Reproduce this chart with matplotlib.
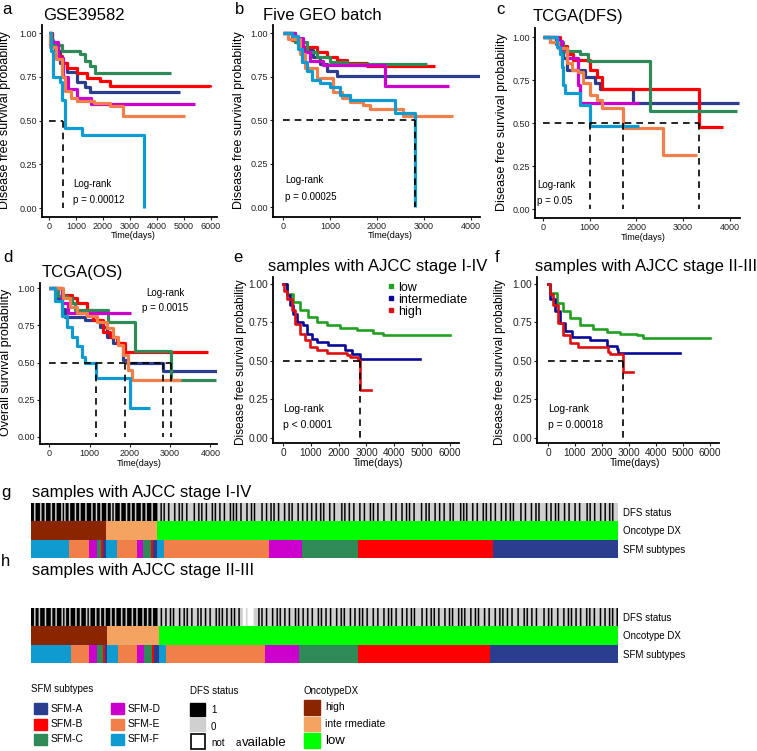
import numpy as np
import matplotlib
matplotlib.use('Agg')
import matplotlib.pyplot as plt
from matplotlib import font_manager
from matplotlib.colors import ListedColormap
from matplotlib.patches import Rectangle
from matplotlib.lines import Line2D

W, H = 757, 751

# ---------------- data ----------------
# subtype colours
sfm_names = ['SFM-A', 'SFM-B', 'SFM-C', 'SFM-D', 'SFM-E', 'SFM-F']
sfm_cols = ['#2A3D8F', '#FF0000', '#2E8B57', '#CC00CC', '#F07F4A', '#0F9AD0']
onco_names = ['high', 'intermediate', 'low']
onco_cols = ['#8B2500', '#F4A460', '#00FF00']
risk_cols = {'low': '#22A022', 'intermediate': '#0A0A99', 'high': '#DD1111'}

# a  GSE39582
a_A_t = [0, 100, 220, 410, 660, 1030, 1330, 1520, 4850]
a_A_s = [1.0, 0.95, 0.90, 0.83, 0.78, 0.72, 0.69, 0.665, 0.665]
a_B_t = [0, 100, 340, 480, 660, 1030, 1400, 1890, 2260, 5950]
a_B_s = [1.0, 0.93, 0.87, 0.83, 0.80, 0.77, 0.745, 0.725, 0.70, 0.69]
a_C_t = [0, 60, 150, 480, 1150, 1330, 1520, 1700, 4500]
a_C_s = [1.0, 0.96, 0.93, 0.90, 0.88, 0.84, 0.81, 0.77, 0.77]
a_D_t = [0, 80, 340, 520, 700, 1030, 1560, 5400]
a_D_s = [1.0, 0.95, 0.86, 0.75, 0.68, 0.63, 0.595, 0.595]
a_E_t = [0, 50, 250, 480, 600, 800, 1030, 1650, 2260, 2750, 5050]
a_E_s = [1.0, 0.92, 0.85, 0.75, 0.67, 0.63, 0.61, 0.60, 0.585, 0.525, 0.525]
a_F_t = [0, 60, 150, 410, 480, 590, 1220, 3520]
a_F_s = [1.0, 0.90, 0.75, 0.72, 0.62, 0.455, 0.415, 0.0]
a_median = [520]
a_p = 'p = 0.00012'

# b  Five GEO batch
b_A_t = [0, 250, 433, 645, 787, 929, 1142, 4200]
b_A_s = [1.0, 0.95, 0.90, 0.86, 0.82, 0.78, 0.755, 0.755]
b_B_t = [0, 185, 362, 716, 929, 1142, 1355, 1780, 3230]
b_B_s = [1.0, 0.96, 0.92, 0.89, 0.865, 0.845, 0.825, 0.81, 0.81]
b_C_t = [0, 250, 500, 716, 1000, 1355, 3060]
b_C_s = [1.0, 0.95, 0.89, 0.86, 0.835, 0.82, 0.82]
b_D_t = [0, 255, 433, 574, 858, 2170, 3540]
b_D_s = [1.0, 0.97, 0.89, 0.84, 0.815, 0.695, 0.695]
b_E_t = [0, 100, 362, 468, 716, 1071, 1248, 1426, 1709, 1851, 2560, 3620]
b_E_s = [1.0, 0.965, 0.88, 0.80, 0.74, 0.66, 0.625, 0.605, 0.585, 0.565, 0.525, 0.525]
b_F_t = [0, 185, 326, 397, 504, 610, 787, 1000, 1213, 1426, 2383, 2810]
b_F_s = [1.0, 0.98, 0.91, 0.835, 0.78, 0.73, 0.71, 0.69, 0.645, 0.615, 0.54, 0.0]
b_median = [2810]
b_p = 'p = 0.00025'

# c  TCGA(DFS)
c_A_t = [0, 272, 436, 507, 900, 1114, 1221, 1935, 4200]
c_A_s = [1.0, 0.96, 0.88, 0.81, 0.77, 0.735, 0.70, 0.615, 0.615]
c_B_t = [0, 364, 507, 650, 1007, 1150, 1257, 3343, 3860]
c_B_s = [1.0, 0.95, 0.90, 0.87, 0.81, 0.77, 0.70, 0.478, 0.478]
c_C_t = [0, 150, 436, 793, 971, 2293, 4150]
c_C_s = [1.0, 0.97, 0.92, 0.90, 0.86, 0.57, 0.57]
c_D_t = [0, 328, 400, 507, 757, 793, 2060]
c_D_s = [1.0, 0.98, 0.93, 0.88, 0.72, 0.62, 0.62]
c_E_t = [0, 150, 328, 507, 614, 757, 864, 1007, 1150, 1257, 1722, 2578, 3290]
c_E_s = [1.0, 0.975, 0.936, 0.849, 0.81, 0.80, 0.733, 0.665, 0.636, 0.587, 0.471, 0.316, 0.316]
c_F_t = [0, 293, 364, 400, 436, 470, 793, 1007, 2060]
c_F_s = [1.0, 0.945, 0.90, 0.83, 0.72, 0.678, 0.606, 0.484, 0.484]
c_median = [1007, 1722, 3343]
c_p = 'p = 0.05'

# d  TCGA(OS)
d_A_t = [0, 183, 307, 389, 885, 1257, 1422, 1588, 1836, 1918, 2827, 4180]
d_A_s = [1.0, 0.93, 0.86, 0.807, 0.785, 0.74, 0.673, 0.63, 0.517, 0.495, 0.44, 0.44]
d_B_t = [0, 307, 555, 679, 926, 1092, 1340, 1505, 1670, 1877, 3940]
d_B_s = [1.0, 0.953, 0.93, 0.897, 0.852, 0.785, 0.707, 0.673, 0.629, 0.573, 0.573]
d_C_t = [0, 224, 431, 555, 637, 1463, 2124, 3033, 4150]
d_C_s = [1.0, 0.95, 0.93, 0.90, 0.852, 0.774, 0.579, 0.383, 0.383]
d_D_t = [0, 307, 472, 2040]
d_D_s = [1.0, 0.90, 0.83, 0.83]
d_E_t = [0, 348, 514, 679, 926, 1174, 1422, 1588, 1712, 1836, 1960, 2042, 3280]
d_E_s = [1.0, 0.93, 0.87, 0.83, 0.81, 0.774, 0.73, 0.673, 0.618, 0.551, 0.45, 0.383, 0.383]
d_F_t = [0, 141, 307, 431, 555, 679, 802, 885, 1157, 2000, 2500]
d_F_s = [1.0, 0.91, 0.81, 0.74, 0.67, 0.61, 0.54, 0.495, 0.394, 0.193, 0.193]
d_median = [1157, 1877, 2827, 3033]
d_p = 'p = 0.0015'

# e  Oncotype DX risk, AJCC stage I-IV
e_low_t = [0, 132, 371, 612, 911, 1211, 1571, 2050, 2650, 3248, 3608, 6000]
e_low_s = [1.0, 0.935, 0.881, 0.828, 0.784, 0.752, 0.730, 0.713, 0.698, 0.683, 0.666, 0.666]
e_int_t = [0, 132, 252, 371, 491, 731, 851, 1031, 1211, 1631, 2230, 2470, 2770, 4930]
e_int_s = [1.0, 0.924, 0.86, 0.806, 0.752, 0.73, 0.677, 0.644, 0.623, 0.601, 0.573, 0.547, 0.515, 0.515]
e_high_t = [0, 30, 132, 312, 431, 612, 791, 971, 1211, 1571, 2290, 2410, 2710, 2770, 3150]
e_high_s = [1.0, 0.955, 0.90, 0.828, 0.741, 0.677, 0.634, 0.59, 0.569, 0.552, 0.537, 0.526, 0.504, 0.31, 0.31]
e_median = [2770]
e_p = 'p < 0.0001'

# f  Oncotype DX risk, AJCC stage II-III
f_low_t = [0, 74, 321, 568, 815, 1185, 1679, 2173, 2667, 3284, 3531, 6000]
f_low_s = [1.0, 0.94, 0.873, 0.824, 0.775, 0.735, 0.706, 0.69, 0.676, 0.67, 0.648, 0.648]
f_int_t = [0, 74, 259, 444, 630, 877, 1556, 2173, 2543, 2605, 4890]
f_int_s = [1.0, 0.90, 0.824, 0.745, 0.696, 0.657, 0.637, 0.598, 0.578, 0.55, 0.55]
f_high_t = [0, 74, 198, 383, 568, 815, 1123, 2235, 2296, 2765, 3160]
f_high_s = [1.0, 0.93, 0.863, 0.745, 0.667, 0.618, 0.588, 0.559, 0.543, 0.43, 0.43]
f_median = [2765]
f_p = 'p = 0.00018'

# g / h heatmaps: samples per SFM subtype (F..A) inside each Oncotype group (high, intermediate, low)
g_counts = [[38, 20, 8, 4, 2, 3], [11, 20, 6, 8, 2, 4], [7, 105, 33, 56, 135, 125]]
h_counts = [[40, 18, 8, 6, 2, 2], [11, 19, 7, 8, 2, 5], [7, 99, 34, 59, 132, 128]]
# DFS status along the ordered samples: 1 = event, 0 = no event, n = not available
g_dfs = ("1101110110111011011101011011101101110111011011011101"
         "10101110111011011011101101110111"
         "001010010001001010010000100101001000101001001000101"
         "010010001001010000100100101001000100101000100100100"
         "100100101000100100001010010010001001000101001000100"
         "001001000100101001000010010100010010010001010000101"
         "010001001000101001001000100100101000010010001001010"
         "000100100101000100100010010000101001000100100101000")
h_dfs = ("1101101110111011011101011011101101110101110110110111"
         "01101110110111011011101101101110"
         "01001001010001001010010001010010010001010100100101"
         "00100nn0nnnn00010100100010010100100100010100100"
         "100100010100100100010010100010010010100100010010001"
         "001010010001001001010000100100101001000100101000101"
         "010001001010001001000100101001001000100010100100100"
         "001001010001000100101001001000101001000100100101001")

# ---------------- drawing ----------------
names = {f.name for f in font_manager.fontManager.ttflist}
narrow = 'Liberation Sans Narrow' if 'Liberation Sans Narrow' in names else 'Liberation Sans'
plt.rcParams['font.family'] = ['Liberation Sans', 'DejaVu Sans']

fig = plt.figure(figsize=(W / 100, H / 100), dpi=100)


def rect(x0, y0, x1, y1):
    return [x0 / W, 1 - y1 / H, (x1 - x0) / W, (y1 - y0) / H]


def km_axes(box, xlim, ylim, xmax, fs):
    ax = fig.add_axes(rect(*box))
    for sp in ['top', 'right']:
        ax.spines[sp].set_visible(False)
    for sp in ['left', 'bottom']:
        ax.spines[sp].set_linewidth(1.3)
    ax.set_xlim(xlim)
    ax.set_ylim(ylim)
    ax.set_xticks(np.arange(0, xmax + 1, 1000))
    ax.set_yticks([0, 0.25, 0.5, 0.75, 1.0])
    ax.set_yticklabels(['0.00', '0.25', '0.50', '0.75', '1.00'])
    ax.tick_params(labelsize=fs, length=2, width=0.8, pad=1.5, colors='#222222')
    return ax


def median_lines(ax, xs):
    ax.plot([0, max(xs)], [0.5, 0.5], color='k', lw=1.2, dashes=(4, 3), zorder=5)
    for x in xs:
        ax.plot([x, x], [0.5, 0], color='k', lw=1.2, dashes=(4, 3), zorder=5)


sub_panels = [
    ('GSE39582', (42, 25, 217, 217), (-260, 6220), (-0.051, 1.046), 6000,
     [(a_A_t, a_A_s), (a_B_t, a_B_s), (a_C_t, a_C_s), (a_D_t, a_D_s), (a_E_t, a_E_s), (a_F_t, a_F_s)],
     a_median, a_p, (900, 0.14, 'left')),
    ('Five GEO batch', (273, 25, 480, 217), (-213, 4190), (-0.057, 1.046), 4000,
     [(b_A_t, b_A_s), (b_B_t, b_B_s), (b_C_t, b_C_s), (b_D_t, b_D_s), (b_E_t, b_E_s), (b_F_t, b_F_s)],
     b_median, b_p, (42, 0.155, 'left')),
    ('TCGA(DFS)', (535, 28, 740, 218), (-171, 4218), (-0.051, 1.054), 4000,
     [(c_A_t, c_A_s), (c_B_t, c_B_s), (c_C_t, c_C_s), (c_D_t, c_D_s), (c_E_t, c_E_s), (c_F_t, c_F_s)],
     c_median, c_p, (-120, 0.14, 'left')),
    ('TCGA(OS)', (40, 283, 217, 444), (-231, 4164), (-0.047, 1.034), 4000,
     [(d_A_t, d_A_s), (d_B_t, d_B_s), (d_C_t, d_C_s), (d_D_t, d_D_s), (d_E_t, d_E_s), (d_F_t, d_F_s)],
     d_median, d_p, (2870, 0.964, 'center')),
]

for title, box, xlim, ylim, xmax, curves, med, ptxt, (tx, ty, ha) in sub_panels:
    ax = km_axes(box, xlim, ylim, xmax, 6.5)
    for (t, s), col in zip(curves, sfm_cols):
        ax.step(t, s, where='post', color=col, lw=2.3, solid_capstyle='butt')
    median_lines(ax, med)
    ax.text(tx, ty, 'Log-rank', fontsize=7, ha=ha, va='center', family=narrow)
    ax.text(tx, ty - 0.095, ptxt, fontsize=7, ha=ha, va='center', family=narrow)

risk_panels = [
    ((273, 277, 459, 443), (-360, 6330),
     [(e_low_t, e_low_s, 'low'), (e_int_t, e_int_s, 'intermediate'), (e_high_t, e_high_s, 'high')],
     e_median, e_p, True),
    ((537, 277, 719, 443), (-407, 6333),
     [(f_low_t, f_low_s, 'low'), (f_int_t, f_int_s, 'intermediate'), (f_high_t, f_high_s, 'high')],
     f_median, f_p, False),
]
for box, xlim, curves, med, ptxt, show_leg in risk_panels:
    ax = km_axes(box, xlim, (-0.032, 1.043), 6000, 7.3)
    for t, s, lab in curves:
        ax.step(t, s, where='post', color=risk_cols[lab], lw=1.9)
    median_lines(ax, med)
    ax.text(0, 0.19, 'Log-rank', fontsize=7.5, ha='left', va='center')
    ax.text(0, 0.085, ptxt, fontsize=7.5, ha='left', va='center')
    if show_leg:
        handles = [Line2D([], [], marker='s', ls='', color=risk_cols[k], markersize=3.5)
                   for k in ['low', 'intermediate', 'high']]
        ax.legend(handles, ['low', 'intermediate', 'high'], loc='upper left',
                  bbox_to_anchor=(0.56, 1.024), frameon=False, fontsize=9,
                  handletextpad=0.2, labelspacing=0.0, handlelength=0.8, borderpad=0.2)

# heatmaps
dfs_cmap = ListedColormap(['black', '#d0d0d0', 'white'])
code = {'1': 0, '0': 1, 'n': 2}
for box, counts, dfs in [((31, 503, 618, 558), g_counts, g_dfs), ((31, 608, 618, 663), h_counts, h_dfs)]:
    ax = fig.add_axes(rect(*box))
    n = sum(sum(c) for c in counts)
    vals = np.array([[code[ch] for ch in dfs]])
    ax.imshow(vals, cmap=dfs_cmap, vmin=0, vmax=2, aspect='auto',
              extent=[0, n, 1, 0], interpolation='antialiased')
    left = 0
    for grp, col in zip(counts, onco_cols):
        ax.barh(1.5, sum(grp), left=left, height=1, color=col, linewidth=0)
        sub_left = left
        for cnt, scol in zip(grp, sfm_cols[::-1]):
            ax.barh(2.5, cnt, left=sub_left, height=1, color=scol, linewidth=0)
            sub_left += cnt
        left += sum(grp)
    ax.set_xlim(0, n)
    ax.set_ylim(3, 0)
    ax.axis('off')

# overlay in pixel coordinates for text and legends
ov = fig.add_axes([0, 0, 1, 1])
ov.set_xlim(0, W)
ov.set_ylim(H, 0)
ov.axis('off')

for lab, x, y in [('a', 7, 10), ('b', 240, 10), ('c', 500, 10), ('d', 8, 258), ('e', 238, 257),
                  ('f', 497, 257), ('g', 6, 492), ('h', 6, 562)]:
    ov.text(x, y, lab, fontsize=12, ha='center', va='center')

for txt, x, y in [('GSE39582', 43, 15), ('Five GEO batch', 263, 15), ('TCGA(DFS)', 533, 17),
                  ('TCGA(OS)', 42, 272), ('samples with AJCC stage I-IV', 268, 267),
                  ('samples with AJCC stage II-III', 535, 267),
                  ('samples with AJCC stage I-IV', 32, 492), ('samples with AJCC stage II-III', 32, 570)]:
    ov.text(x, y, txt, fontsize=12, ha='left', va='center')

for x, y, fs in [(133, 235, 6.5), (390, 235, 6.5), (643, 237, 6.5), (139, 463, 6.5),
                 (378, 463, 7.3), (635, 463, 7.3)]:
    ov.text(x, y, 'Time(days)', fontsize=fs, ha='center', va='center')

for txt, x, y, fs, fam in [('Disease free survival probability', 5, 120, 9, narrow),
                           ('Disease free survival probability', 239, 120, 9, narrow),
                           ('Disease free survival probability', 502, 122, 9, narrow),
                           ('Overall survival probability', 6, 362, 9, narrow),
                           ('Disease free survival probability', 241, 362, 8.5, 'Liberation Sans'),
                           ('Disease free survival probability', 500, 362, 8.5, 'Liberation Sans')]:
    ov.text(x, y, txt, fontsize=fs, rotation=90, ha='center', va='center', family=fam)

for y0 in [0, 105]:
    ov.text(623, 513 + y0, 'DFS status', fontsize=7, va='center')
    ov.text(623, 531 + y0, 'Oncotype DX', fontsize=7, va='center')
    ov.text(623, 550 + y0, 'SFM subtypes', fontsize=7, va='center')

# bottom legends
ov.text(31, 689, 'SFM subtypes', fontsize=7, va='center')
for i, (nm, col) in enumerate(zip(sfm_names, sfm_cols)):
    x = 34 if i < 3 else 111
    y = 703 + 15.5 * (i % 3)
    ov.add_patch(Rectangle((x, y), 13, 11, color=col))
    ov.text(x + 17, y + 5.5, nm, fontsize=7.5, va='center')

ov.text(190, 691, 'DFS status', fontsize=7, va='center')
ov.add_patch(Rectangle((190, 703), 15, 13, color='black'))
ov.add_patch(Rectangle((190, 718), 15, 13, color='#d0d0d0'))
ov.add_patch(Rectangle((190.5, 734), 14, 15, facecolor='white', edgecolor='black', lw=1.2))
ov.text(211, 710, '1', fontsize=7, va='center')
ov.text(211, 727, '0', fontsize=7, va='center')
ov.text(211, 743, 'not', fontsize=7, va='center')
ov.text(236, 743, 'a', fontsize=7, va='center')
ov.text(242, 743, 'vailable', fontsize=9.5, va='center')

ov.text(304, 691, 'OncotypeDX', fontsize=7, va='center')
for i, (nm, col) in enumerate(zip(['high', 'inte rmediate', 'low'], onco_cols)):
    y = 700 + 16.7 * i
    ov.add_patch(Rectangle((304, y), 16, 14.5, color=col))
    ov.text(325, y + 7.5, nm, fontsize=9.5 if nm == 'low' else 7.5, va='center')

fig.savefig('out.png', dpi=100)
